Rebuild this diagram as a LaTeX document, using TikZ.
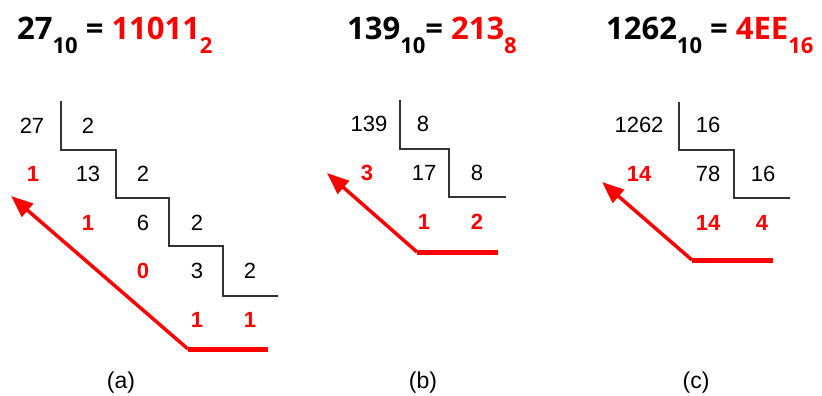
\documentclass[tikz,border=0pt]{standalone}
\usepackage{fontspec}
\setmainfont{Liberation Sans}
\newfontfamily\ttlfont{Open Sans}
\usetikzlibrary{arrows.meta}
\newcommand{\subnum}[1]{\raisebox{-14pt}{\fontsize{22}{22}\selectfont #1}}
\begin{document}
\begin{tikzpicture}[x=1pt,y=-1pt,
  ttl/.style={inner sep=0,font=\ttlfont\bfseries\fontsize{31}{31}\selectfont},
  num/.style={inner sep=0,font=\fontsize{22}{22}\selectfont},
  rnum/.style={inner sep=0,text=red,font=\fontsize{22}{22}\selectfont\bfseries},
  lbl/.style={inner sep=0,anchor=base,font=\fontsize{23}{23}\selectfont},
  stair/.style={draw=black!80,line width=1.3pt},
  redarrow/.style={draw=red,line width=3.5pt,-{Triangle[length=22pt,width=17pt]}},
  redbar/.style={draw=red,line width=5pt}]
\path[use as bounding box] (0,0) rectangle (822,396);

% titles
\node[ttl,anchor=base west] (ta) at (17,40) {27\subnum{10} = \textcolor{red}{11011\subnum{2}}};
\node[ttl,anchor=base west] (tb) at (347,40) {139\subnum{10}= \textcolor{red}{213\subnum{8}}};
\node[ttl,anchor=base west] (tc) at (606,40) {1262\subnum{10} = \textcolor{red}{4EE\subnum{16}}};

% ---------- panel (a)
\draw[stair] (61,101) |- (116,150) |- (169,198) |- (223,246) |- (278,296);
\node[num] (a11) at (32,126) {27};
\node[num] (a12) at (88,126) {2};
\node[rnum] (a21) at (33,174) {1};
\node[num] (a22) at (88,174) {13};
\node[num] (a23) at (143,174) {2};
\node[rnum] (a31) at (88,223) {1};
\node[num] (a32) at (143,223) {6};
\node[num] (a33) at (197,223) {2};
\node[rnum] (a41) at (143,271) {0};
\node[num] (a42) at (197,271) {3};
\node[num] (a43) at (250,271) {2};
\node[rnum] (a51) at (197,320) {1};
\node[rnum] (a52) at (250,320) {1};
\coordinate (ak) at (188,349);
\coordinate (ae) at (268,349);
\coordinate (at) at (11,196);
\draw[redbar] (ak) -- (ae);
\draw[redarrow] (ak) -- (at);
\node[lbl] (la) at (121,388) {(a)};

% ---------- panel (b)
\draw[stair] (400,100) |- (449,149) |- (506,197);
\node[num] (b11) at (369,124) {139};
\node[num] (b12) at (423,124) {8};
\node[rnum] (b21) at (367,173) {3};
\node[num] (b22) at (424,173) {17};
\node[num] (b23) at (477,173) {8};
\node[rnum] (b31) at (424,222) {1};
\node[rnum] (b32) at (477,222) {2};
\coordinate (bk) at (417,252);
\coordinate (be) at (498,252);
\coordinate (bt) at (327,173);
\draw[redbar] (bk) -- (be);
\draw[redarrow] (bk) -- (bt);
\node[lbl] (lb) at (423,388) {(b)};

% ---------- panel (c)
\draw[stair] (679,102) |- (734,150) |- (790,198);
\node[num] (c11) at (639,125) {1262};
\node[num] (c12) at (708,125) {16};
\node[rnum] (c21) at (639,174) {14};
\node[num] (c22) at (708,174) {78};
\node[num] (c23) at (763,174) {16};
\node[rnum] (c31) at (708,223) {14};
\node[rnum] (c32) at (762,223) {4};
\coordinate (ck) at (692,260);
\coordinate (ce) at (773,260);
\coordinate (ct) at (602,182);
\draw[redbar] (ck) -- (ce);
\draw[redarrow] (ck) -- (ct);
\node[lbl] (lc) at (696,388) {(c)};
\end{tikzpicture}
\end{document}
